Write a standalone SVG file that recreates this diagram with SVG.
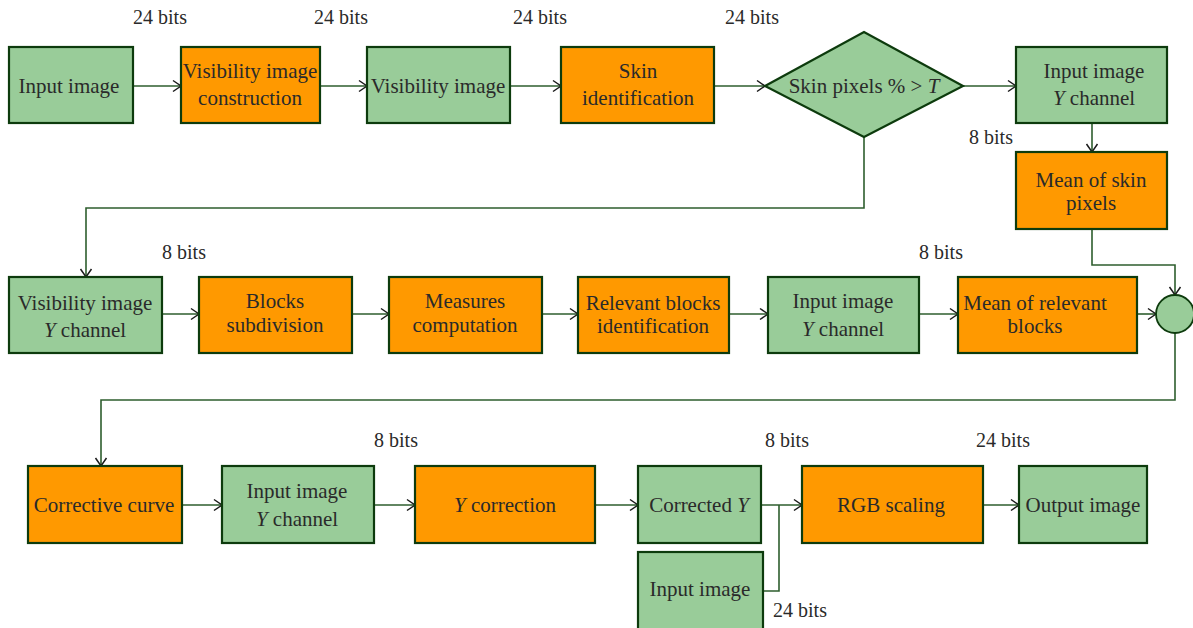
<svg xmlns="http://www.w3.org/2000/svg" width="1193" height="628" viewBox="0 0 1193 628">
<style>
.g{fill:#99cc99;stroke:#0d3b0d;stroke-width:2.2}
.o{fill:#ff9900;stroke:#0d3b0d;stroke-width:2.2}
text{font-family:"Liberation Serif","DejaVu Serif",serif;font-size:21px;fill:#2a2a2a;text-anchor:middle}
.l{font-size:20px}
.c{fill:none;stroke:#2e5e2e;stroke-width:1.6}
</style>
<defs>
<marker id="a" markerUnits="userSpaceOnUse" markerWidth="14" markerHeight="14" viewBox="-10 -7 12 14" refX="0" refY="0" orient="auto">
<path d="M-8,-5.5 L0,0 L-8,5.5" fill="none" stroke="#1a1a1a" stroke-width="1.5"/>
</marker>
</defs>
<g id="labels">
<text class="l" x="160" y="24">24 bits</text>
<text class="l" x="341" y="24">24 bits</text>
<text class="l" x="540" y="24">24 bits</text>
<text class="l" x="752" y="24">24 bits</text>
<text class="l" x="991" y="144">8 bits</text>
<text class="l" x="184" y="259">8 bits</text>
<text class="l" x="941" y="259">8 bits</text>
<text class="l" x="396" y="447">8 bits</text>
<text class="l" x="787" y="447">8 bits</text>
<text class="l" x="1003" y="447">24 bits</text>
<text class="l" x="800" y="617">24 bits</text>
</g>
<g id="connectors" class="c">
<path d="M133,86H181" marker-end="url(#a)"/>
<path d="M320,86H367" marker-end="url(#a)"/>
<path d="M510,86H561" marker-end="url(#a)"/>
<path d="M714,86H765" marker-end="url(#a)"/>
<path d="M963,86H1016" marker-end="url(#a)"/>
<path d="M1092,123V152" marker-end="url(#a)"/>
<path d="M864,137V208H86V277" marker-end="url(#a)"/>
<path d="M1092,229V265H1175V295" marker-end="url(#a)"/>
<path d="M162,314H199" marker-end="url(#a)"/>
<path d="M352,314H389" marker-end="url(#a)"/>
<path d="M542,314H578" marker-end="url(#a)"/>
<path d="M729,314H768" marker-end="url(#a)"/>
<path d="M919,314H958" marker-end="url(#a)"/>
<path d="M1137,314H1156" marker-end="url(#a)"/>
<path d="M1175,333V400H101V466" marker-end="url(#a)"/>
<path d="M182,505H222" marker-end="url(#a)"/>
<path d="M374,505H415" marker-end="url(#a)"/>
<path d="M595,505H638" marker-end="url(#a)"/>
<path d="M761,505H802" marker-end="url(#a)"/>
<path d="M983,505H1019" marker-end="url(#a)"/>
<path d="M763,591H779V505"/>
</g>
<g id="n1"><rect class="g" x="9" y="47" width="124" height="76"/><text x="69" y="93">Input image</text></g>
<g id="n2"><rect class="o" x="181" y="47" width="139" height="76"/><text x="250" y="78">Visibility image</text><text x="250" y="105">construction</text></g>
<g id="n3"><rect class="g" x="367" y="47" width="143" height="76"/><text x="438" y="93">Visibility image</text></g>
<g id="n4"><rect class="o" x="561" y="47" width="153" height="76"/><text x="638" y="78">Skin</text><text x="638" y="105">identification</text></g>
<g id="n5"><polygon class="g" points="765,86 864,32 963,86 864,137"/><text x="864" y="93">Skin pixels % &gt; <tspan font-style="italic">T</tspan></text></g>
<g id="n6"><rect class="g" x="1016" y="47" width="151" height="76"/><text x="1094" y="78">Input image</text><text x="1094" y="105"><tspan font-style="italic">Y</tspan> channel</text></g>
<g id="n7"><rect class="o" x="1016" y="152" width="151" height="77"/><text x="1091" y="187">Mean of skin</text><text x="1091" y="210">pixels</text></g>
<g id="n8"><rect class="g" x="9" y="277" width="153" height="76"/><text x="85" y="310">Visibility image</text><text x="85" y="337"><tspan font-style="italic">Y</tspan> channel</text></g>
<g id="n9"><rect class="o" x="199" y="277" width="153" height="76"/><text x="275" y="308">Blocks</text><text x="275" y="332">subdivision</text></g>
<g id="n10"><rect class="o" x="389" y="277" width="153" height="76"/><text x="465" y="308">Measures</text><text x="465" y="332">computation</text></g>
<g id="n11"><rect class="o" x="578" y="277" width="151" height="76"/><text x="653" y="310">Relevant blocks</text><text x="653" y="333">identification</text></g>
<g id="n12"><rect class="g" x="768" y="277" width="151" height="76"/><text x="843" y="308">Input image</text><text x="843" y="336"><tspan font-style="italic">Y</tspan> channel</text></g>
<g id="n13"><rect class="o" x="958" y="277" width="179" height="76"/><text x="1035" y="310">Mean of relevant</text><text x="1035" y="333">blocks</text></g>
<g id="n14"><circle cx="1175" cy="314" r="19" fill="#99cc99" stroke="#0d3b0d" stroke-width="1.8"/></g>
<g id="n15"><rect class="o" x="28" y="466" width="154" height="77"/><text x="104" y="512">Corrective curve</text></g>
<g id="n16"><rect class="g" x="222" y="466" width="152" height="77"/><text x="297" y="498">Input image</text><text x="297" y="526"><tspan font-style="italic">Y</tspan> channel</text></g>
<g id="n17"><rect class="o" x="415" y="466" width="180" height="77"/><text x="505" y="512"><tspan font-style="italic">Y</tspan> correction</text></g>
<g id="n18"><rect class="g" x="638" y="466" width="123" height="77"/><text x="699" y="512">Corrected <tspan font-style="italic">Y</tspan></text></g>
<g id="n19"><rect class="o" x="802" y="466" width="181" height="77"/><text x="891" y="512">RGB scaling</text></g>
<g id="n20"><rect class="g" x="1019" y="466" width="128" height="77"/><text x="1083" y="512">Output image</text></g>
<g id="n21"><rect class="g" x="638" y="552" width="125" height="80"/><text x="700" y="596">Input image</text></g>
</svg>
